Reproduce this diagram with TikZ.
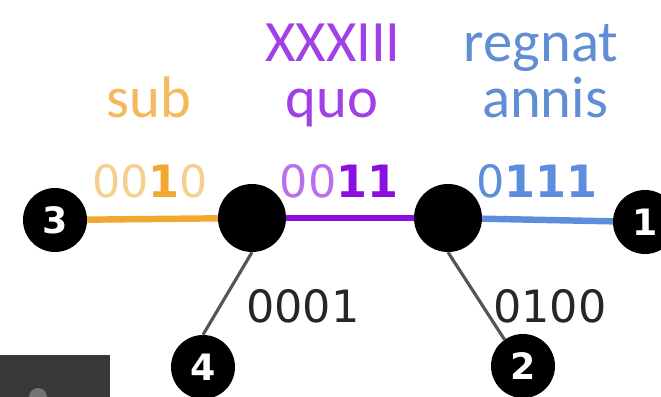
\documentclass[tikz,border=0pt]{standalone}
\usepackage{fontspec}
\setmainfont{Carlito}
\newfontfamily\bitfont{DejaVu Sans}
\usetikzlibrary{arrows.meta}

\definecolor{suborange}{HTML}{F0A830}
\definecolor{quopurple}{HTML}{8A10E0}
\definecolor{annisblue}{HTML}{5C8EDC}
\definecolor{linegray}{HTML}{555555}

\begin{document}
\begin{tikzpicture}[x=0.03cm,y=-0.03cm,
    leaf/.style={circle,fill=black,inner sep=0pt,minimum size=1.92cm,
      text=white,font=\bitfont\bfseries\fontsize{31}{34}\selectfont},
    junction/.style={circle,fill=black,inner sep=0pt,minimum size=2.04cm},
    word/.style={anchor=base,font=\fontsize{50}{60}\selectfont},
    bits/.style={anchor=base,inner sep=0pt,font=\bitfont\fontsize{38}{44}\selectfont},
    edge/.style={line width=5.5pt},
    branch/.style={line width=2.7pt,linegray}]

    \useasboundingbox (0,0) rectangle (661,397);

    % draw nodes
    \node[leaf] (n3) at (55,220) {3};
    \node[junction] (a) at (252,218) {};
    \node[junction] (b) at (448,218) {};
    \node[leaf] (n1) at (645,222) {1};
    \node[leaf] (n4) at (203,367) {4};
    \node[leaf] (n2) at (523,366) {2};

    % draw edges
    \draw[edge,suborange] (n3) -- (a);
    \draw[edge,quopurple] (a) -- (b);
    \draw[edge,annisblue] (b) -- (n1);
    \draw[branch] (a.south) -- (n4.north);
    \draw[branch] (b.south) -- (n2.125);

    % edge codes
    \node[bits] (c3) at (150,198) {\textcolor{suborange!55}{00}\textcolor{suborange}{\bfseries 1}\textcolor{suborange!55}{0}};
    \node[bits] (ca) at (339,198) {\textcolor{quopurple!60}{00}\textcolor{quopurple}{\bfseries 11}};
    \node[bits,annisblue] (cb) at (537,198) {0\textbf{111}};
    \node[bits,black!85] (c4) at (303,322) {0001};
    \node[bits,black!85] (c2) at (550,322) {0100};

    % words
    \node[word,suborange!80] (w1) at (149,118) {sub};
    \node[word,quopurple!80] (w2) at (333,62) {XXXIII};
    \node[word,quopurple!80] (w3) at (332,118) {quo};
    \node[word,annisblue!90!gray] (w4) at (541,62) {regnat};
    \node[word,annisblue!90!gray] (w5) at (545,118) {annis};

    % corner of the toolbar
    \fill[black!78] (0,355) rectangle (110,397);
    \fill[black!55] (38,397) circle (9);
\end{tikzpicture}
\end{document}
